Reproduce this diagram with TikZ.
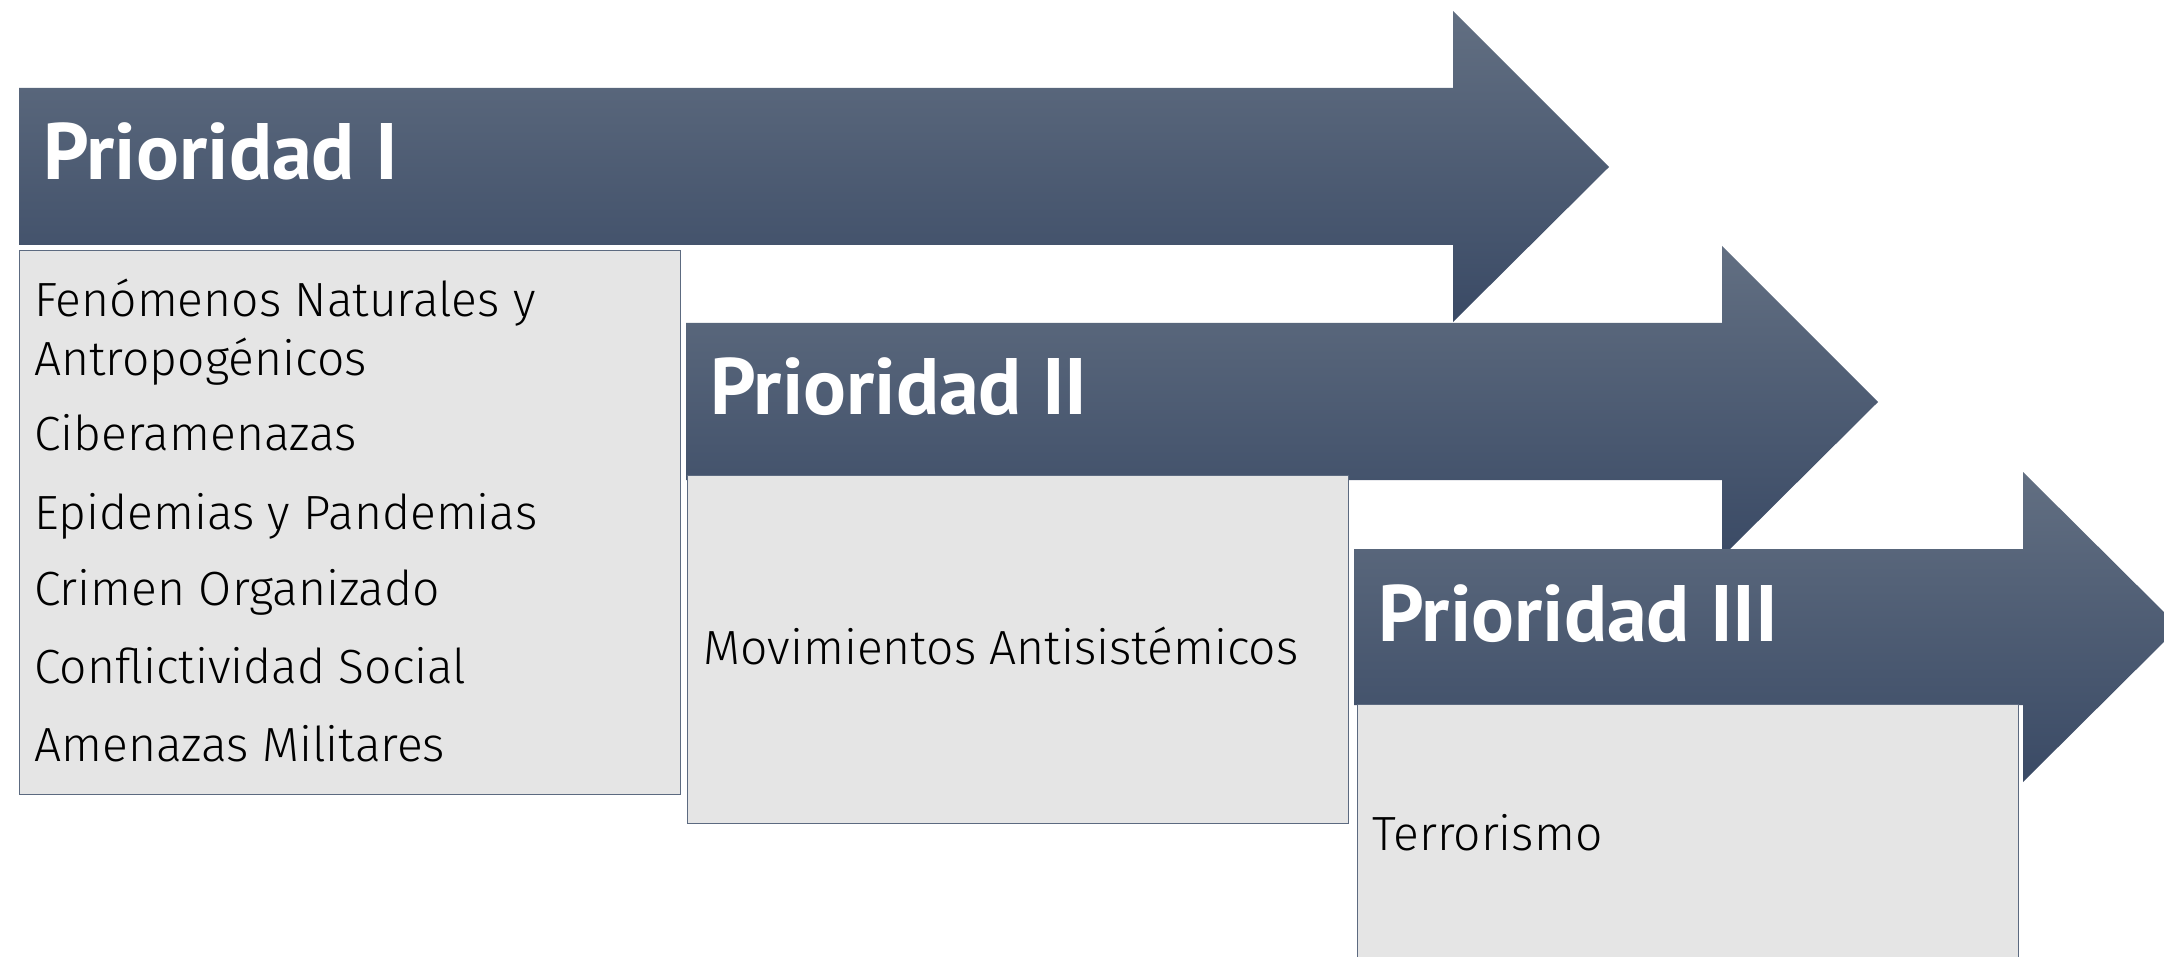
\documentclass[tikz,border=0pt]{standalone}
\usepackage{fontspec}
\setmainfont{PT Sans}
\newfontfamily\titlefont{PT Sans}[UprightFont=* Bold]
\newfontfamily\bodyfont{Fira Sans Light}
\definecolor{arrtop}{RGB}{98,111,130}
\definecolor{arrbot}{RGB}{58,74,101}
\definecolor{boxfill}{RGB}{229,229,229}
\definecolor{boxline}{RGB}{92,106,128}
\tikzset{
  arrowshape/.style={top color=arrtop, bottom color=arrbot, draw=none},
  itembox/.style={draw=boxline, line width=0.6pt, fill=boxfill, anchor=north west, inner sep=0pt, minimum width=330.5pt},
  titletext/.style={anchor=base west, inner sep=0pt, text=white, font=\titlefont\fontsize{40}{40}\selectfont},
  itemtext/.style={anchor=base west, inner sep=0pt, text=black, font=\bodyfont\fontsize{24}{24}\selectfont}
}
\begin{document}
\begin{tikzpicture}[x=0.5pt,y=-0.5pt]
\useasboundingbox (0,0) rectangle (2164,957);
\clip (0,0) rectangle (2164,957);
% Arrow 1
\shade[arrowshape] (19,88) -- (1453,88) -- (1453,11) -- (1609,167) -- (1453,322) -- (1453,245) -- (19,245) -- cycle;
\node[itembox, minimum height=272pt] (box1) at (19,250) {};
\node[titletext] (title1) at (43,180) {Prioridad I};
\node[itemtext] (i1a) at (34,317) {Fenómenos Naturales y};
\node[itemtext] (i1b) at (34,375) {Antropogénicos};
\node[itemtext] (i2) at (34,451) {Ciberamenazas};
\node[itemtext] (i3) at (34,529) {Epidemias y Pandemias};
\node[itemtext] (i4) at (34,605) {Crimen Organizado};
\node[itemtext] (i5) at (34,683) {Conflictividad Social};
\node[itemtext] (i6) at (34,761) {Amenazas Militares};
% Arrow 2
\shade[arrowshape] (686,323) -- (1722,323) -- (1722,246) -- (1878,402) -- (1722,557) -- (1722,480) -- (686,480) -- cycle;
\node[itembox, minimum height=174pt] (box2) at (687,475) {};
\node[titletext] (title2) at (710,415) {Prioridad II};
\node[itemtext] (i7) at (703,664) {Movimientos Antisistémicos};
% Arrow 3
\shade[arrowshape] (1354,549) -- (2023,549) -- (2023,472) -- (2179,627) -- (2023,782) -- (2023,705) -- (1354,705) -- cycle;
\node[itembox, minimum height=174pt] (box3) at (1357,704) {};
\node[titletext] (title3) at (1378,641) {Prioridad III};
\node[itemtext] (i8) at (1372,850) {Terrorismo};
\end{tikzpicture}
\end{document}
